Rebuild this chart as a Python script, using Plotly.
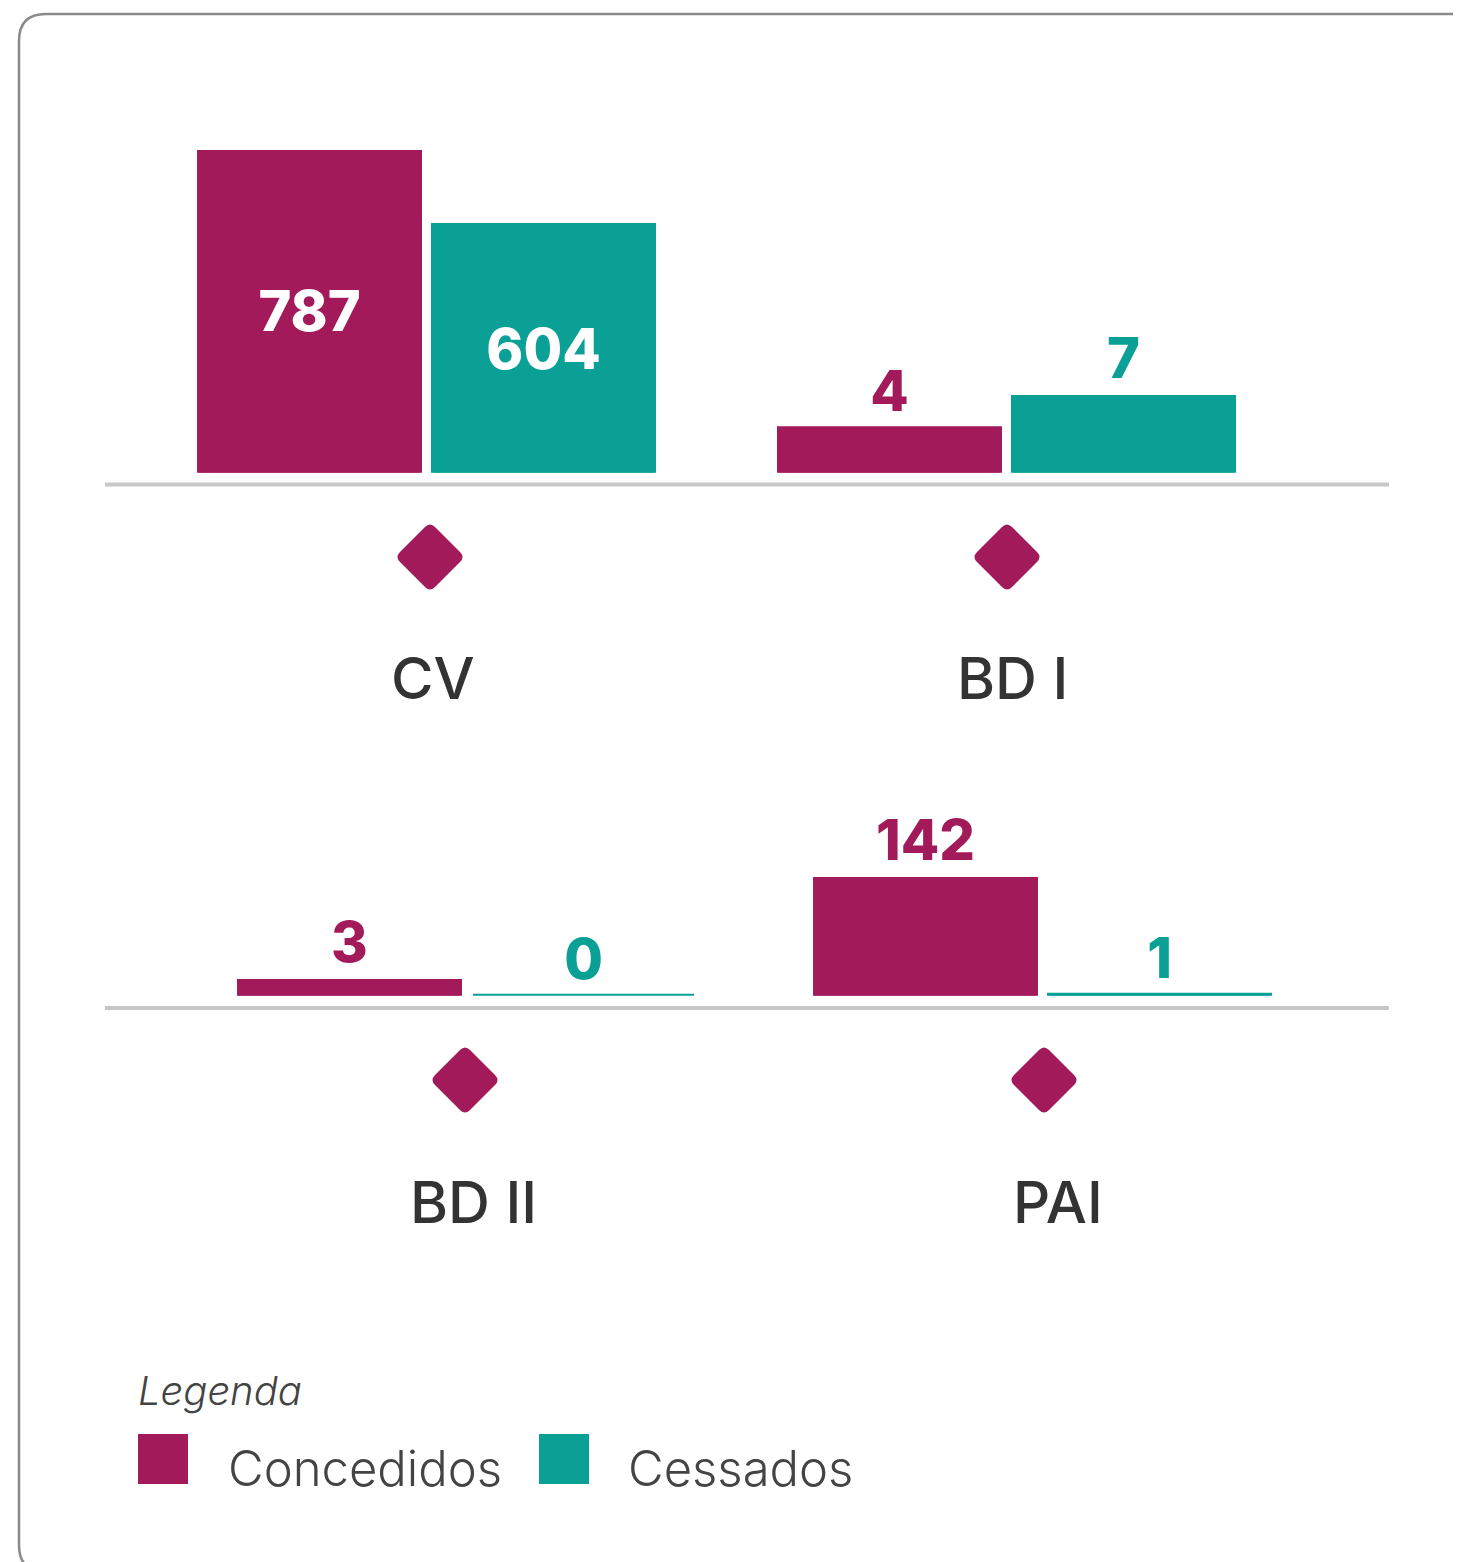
import plotly.graph_objects as go

# ---------------- data ----------------
categories = ["CV", "BD I", "BD II", "PAI"]
series_names = ["Concedidos", "Cessados"]
concedidos = [787, 4, 3, 142]
cessados = [604, 7, 0, 1]
legend_title = "Legenda"

# ---------------- style ----------------
MAGENTA = "#A31A5B"
TEAL = "#0AA096"
COLORS = [MAGENTA, TEAL]
FONT = "Inter, Lato, sans-serif"
W, H = 1461, 1562
OFF = 8  # page body margin


def fx(x):
    return (x - OFF) / W


def fy(y):
    return 1 - (y - OFF) / H


# panel boxes in pixels: (left, right, bottom, top)
panels = [
    (192.5, 660.5, 472.7, 150),
    (772.5, 1240.5, 472.7, 395),
    (232.5, 700.5, 995.7, 979),
    (808.5, 1276.5, 995.7, 877),
]
label_pos = [(433, 678), (1012, 678), (473, 1202), (1058, 1202)]
diamond_pos = [(430, 557), (1007, 557), (465, 1080), (1044, 1080)]
baselines_y = [484.5, 1008]

series_values = [concedidos, cessados]

fig = go.Figure()
layout_axes = {}
for i, cat in enumerate(categories):
    ax = "" if i == 0 else str(i + 1)
    inside = i == 0
    for j, name in enumerate(series_names):
        v = series_values[j][i]
        fig.add_trace(go.Bar(
            x=[cat], y=[v], name=name,
            xaxis="x" + ax, yaxis="y" + ax,
            offsetgroup=str(j),
            marker=dict(color=COLORS[j], line=dict(color=COLORS[j], width=4)),
            text=[str(v)],
            textposition="inside" if inside else "outside",
            insidetextanchor="middle",
            textangle=0,
            constraintext="none",
            textfont=dict(family=FONT, size=56, weight=800,
                          color="white" if inside else COLORS[j]),
            cliponaxis=False,
            showlegend=False,
            hovertemplate=f"{cat} – {name}: %{{y}}<extra></extra>",
        ))
    l, r, b, t = panels[i]
    vmax = max(concedidos[i], cessados[i])
    layout_axes["xaxis" + ax] = dict(
        domain=[fx(l), fx(r)], anchor="y" + ax, type="category",
        range=[-0.5, 0.5], visible=False, fixedrange=True)
    layout_axes["yaxis" + ax] = dict(
        domain=[fy(b), fy(t)], anchor="x" + ax, range=[0, vmax],
        visible=False, fixedrange=True)

shapes = []
# card border (pixel sized, anchored at top-left of the figure)
R = 27
x0, x1, y0, y1 = 19 - OFF, 1482 - OFF, -(14 - OFF), -(1572 - OFF)
card = (f"M{x0+R},{y0} L{x1-R},{y0} Q{x1},{y0} {x1},{y0-R} "
        f"L{x1},{y1+R} Q{x1},{y1} {x1-R},{y1} L{x0+R},{y1} "
        f"Q{x0},{y1} {x0},{y1+R} L{x0},{y0-R} Q{x0},{y0} {x0+R},{y0} Z")
shapes.append(dict(type="path", xref="paper", yref="paper",
                   xsizemode="pixel", ysizemode="pixel", xanchor=0, yanchor=1,
                   path=card, line=dict(color="#8A8A8A", width=2.5),
                   fillcolor="rgba(0,0,0,0)", layer="below"))
# baselines
for by in baselines_y:
    shapes.append(dict(type="line", xref="paper", yref="paper",
                       x0=fx(105), x1=fx(1389), y0=fy(by), y1=fy(by),
                       line=dict(color="#C8C8C8", width=4)))
# rounded diamonds
Rd, d = 35, 5
dpath = (f"M{-d},{Rd-d} Q0,{Rd} {d},{Rd-d} L{Rd-d},{d} Q{Rd},0 {Rd-d},{-d} "
         f"L{d},{-Rd+d} Q0,{-Rd} {-d},{-Rd+d} L{-Rd+d},{-d} Q{-Rd},0 {-Rd+d},{d} Z")
for cx, cy in diamond_pos:
    shapes.append(dict(type="path", xref="paper", yref="paper",
                       xsizemode="pixel", ysizemode="pixel",
                       xanchor=fx(cx), yanchor=fy(cy), path=dpath,
                       fillcolor=MAGENTA, line=dict(width=0)))
# legend squares
legend_sq_x = [138, 539]
for j, sx in enumerate(legend_sq_x):
    shapes.append(dict(type="rect", xref="paper", yref="paper",
                       x0=fx(sx), x1=fx(sx + 50), y0=fy(1484), y1=fy(1434),
                       fillcolor=COLORS[j], line=dict(width=0)))

annotations = []
for cat, (cx, cy) in zip(categories, label_pos):
    annotations.append(dict(text=cat, xref="paper", yref="paper",
                            x=fx(cx), y=fy(cy), xanchor="center", yanchor="middle",
                            showarrow=False,
                            font=dict(family=FONT, size=58, weight=500, color="#333333")))
annotations.append(dict(text=f"<i>{legend_title}</i>", xref="paper", yref="paper",
                        x=fx(136), y=fy(1390), xanchor="left", yanchor="middle",
                        showarrow=False,
                        font=dict(family=FONT, size=40, weight=300, color="#444444")))
legend_text_x = [226, 626]
for name, tx in zip(series_names, legend_text_x):
    annotations.append(dict(text=name, xref="paper", yref="paper",
                            x=fx(tx), y=fy(1468), xanchor="left", yanchor="middle",
                            showarrow=False,
                            font=dict(family=FONT, size=49, weight=300, color="#444444")))

fig.update_layout(
    width=W, height=H,
    margin=dict(l=0, r=0, t=0, b=0),
    paper_bgcolor="white", plot_bgcolor="rgba(0,0,0,0)",
    barmode="group", bargap=0, bargroupgap=13 / 234,
    showlegend=False,
    shapes=shapes, annotations=annotations,
    **layout_axes,
)

fig.write_html("out.html")
